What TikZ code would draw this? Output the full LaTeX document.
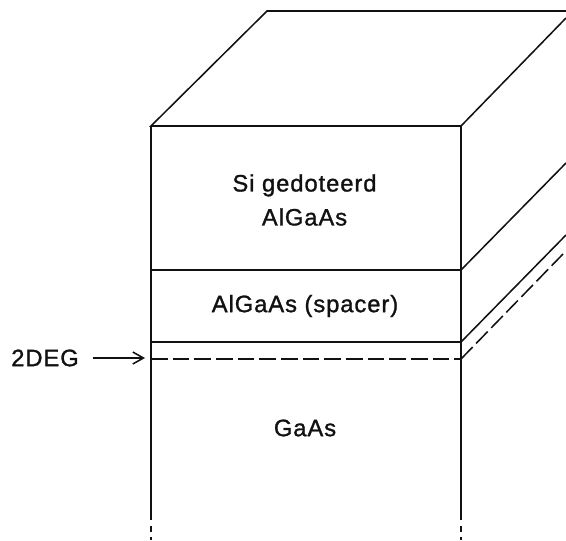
\documentclass[tikz,border=0pt]{standalone}
\usepackage{fontspec}
\setmainfont{Liberation Sans}[FakeBold=1.2]
\usepackage{xcolor}
\definecolor{stapelInk}{HTML}{111111}
\usepackage{tikz}
\usetikzlibrary{arrows.meta}
\tikzset{
  %% Lines of the layer stack
  laagLijn/.style   = {draw=stapelInk, line width=1.15pt},
  laagStreep/.style = {laagLijn, dash pattern=on 12.5pt off 3.75pt},
  breekLijn/.style  = {laagLijn, dash pattern=on 4.5pt off 3.75pt},
  pijl/.style       = {-{Straight Barb[length=8pt, width=9pt]}, draw=stapelInk,
                       line width=1.15pt},
  %% Labels
  laagTekst/.style  = {font=\fontsize{17.8pt}{25.5pt}\selectfont\addfontfeature{LetterSpace=4,FakeBold=1.2},
                       text=stapelInk, align=center, inner sep=0pt},
}

\begin{document}
\begin{tikzpicture}[x=0.75pt, y=-0.75pt]

\useasboundingbox (0,0) rectangle (566,540);

%% Voorvlak en bovenvlak
\coordinate (voorLB) at (151,126);
\coordinate (voorRB) at (461,126);
\coordinate (achterL) at (267,11);
\coordinate (achterR) at (566,11);
\coordinate (hoekR) at (566,18);
\draw[laagLijn] (voorRB) -- (voorLB) -- (achterL) -- (achterR);
\draw[laagLijn] (voorRB) -- (hoekR);

%% De lagen, op hun hoogte
\foreach \naam/\y/\yr in {si/270/163, spacer/342/235} {
  \coordinate (\naam L) at (151,\y);
  \coordinate (\naam R) at (461,\y);
  \coordinate (\naam E) at (566,\yr);
  \draw[laagLijn] (\naam L) -- (\naam R) -- (\naam E);
}

%% Het 2DEG
\coordinate (degL) at (151,359);
\coordinate (degR) at (461,359);
\coordinate (degE) at (563,254);
\draw[laagStreep] (degL) -- (degR);
\draw[laagStreep] (degR) -- (degE);

%% De zijkanten, onderaan afgebroken
\foreach \x/\naam in {151/L, 461/R} {
  \coordinate (onder\naam) at (\x,520);
  \coordinate (eind\naam) at (\x,540);
  \draw[laagLijn] (\x,126) -- (onder\naam);
  \draw[breekLijn] (\x,526) -- (eind\naam);
}

%% Teksten
\node[laagTekst] (sigedoteerd) at (304.5,200) {Si gedoteerd\\AlGaAs};
\node[laagTekst] (spacertekst) at (305,306) {AlGaAs (spacer)};
\node[laagTekst] (gaastekst) at (305,428) {GaAs};
\node[laagTekst] (degtekst) at (45,358) {2DEG};
\coordinate (degPijl) at (145,358);
\draw[pijl] (93,358) -- (degPijl);

\end{tikzpicture}
\end{document}
